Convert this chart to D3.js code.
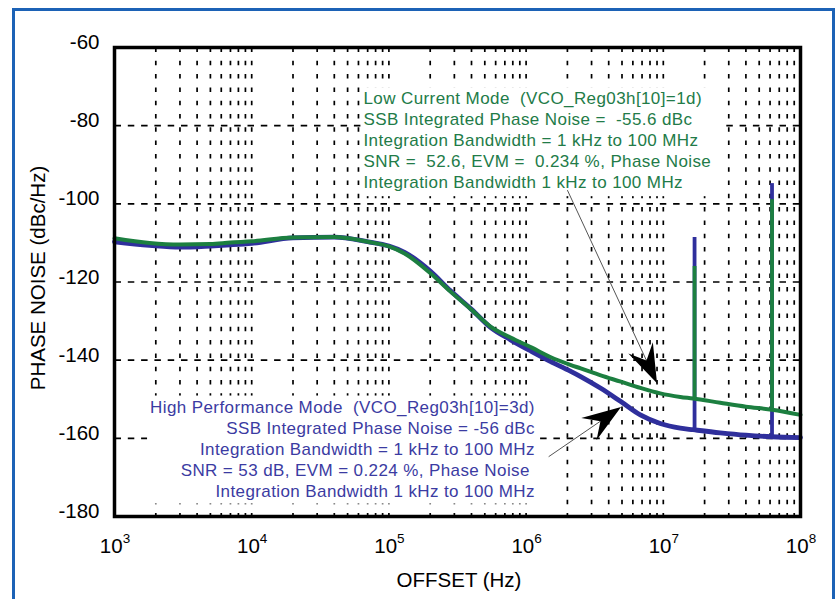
<!DOCTYPE html>
<html>
<head>
<meta charset="utf-8">
<script src="https://cdn.jsdelivr.net/npm/d3@7"></script>
<style>
  html, body { margin: 0; padding: 0; background: #fff; }
  svg { display: block; font-family: "Liberation Sans", Arial, Helvetica, sans-serif; }
</style>
</head>
<body>
<svg id="chart" width="839" height="599"></svg>
<script>
// Offset frequencies (Hz) at which both phase-noise traces are sampled
const offsetsHz = [1e3, 1.8e3, 3e3, 5e3, 7e3, 1e4, 2e4, 4e4, 7e4, 1e5, 1.3e5, 2e5, 2.8e5, 4e5,
  5.5e5, 7.7e5, 1.1e6, 1.5e6, 2.1e6, 2.5e6, 3.5e6, 4.9e6, 6.8e6, 9.5e6, 1.33e7, 1.65e7,
  2.6e7, 4e7, 6.2e7, 1e8];

// Low Current Mode (VCO_Reg03h[10]=1d), dBc/Hz
const lowCurrentNoise = [-108.8, -110.0, -110.4, -110.3, -109.9, -109.6, -108.6, -108.5, -109.7,
  -110.9, -112.7, -117.7, -122.4, -127.1, -131.4, -134.2, -136.8, -139.2, -141.2, -142.1,
  -143.9, -145.5, -147.1, -148.5, -149.4, -149.8, -150.9, -151.9, -152.7, -154.0];

// High Performance Mode (VCO_Reg03h[10]=3d), dBc/Hz
const highPerfNoise = [-109.7, -110.6, -111.1, -110.8, -110.5, -110.1, -108.7, -108.5, -109.7,
  -110.8, -112.4, -117.2, -122.2, -127.0, -131.6, -134.8, -137.8, -140.3, -142.8, -144.2,
  -147.2, -150.6, -154.0, -156.2, -157.4, -157.8, -158.6, -159.2, -159.6, -159.8];

// Spurs: offset, top of the spur and the floor it rises from, per mode
const spurOffsetsHz = [1.69e7, 6.2e7];
const spurHighTop = [-108.5, -94.7];
const spurHighBase = [-157.8, -159.6];
const spurLowTop = [-115.9, -98.8];
const spurLowBase = [-149.8, -152.7];

// Axis ticks
const yTickValues = [-60, -80, -100, -120, -140, -160, -180];
const xDecadeTicks = [1e3, 1e4, 1e5, 1e6, 1e7, 1e8];

// Annotation text
const lowCurrentNote = [
  "Low Current Mode  (VCO_Reg03h[10]=1d)",
  "SSB Integrated Phase Noise =  -55.6 dBc",
  "Integration Bandwidth = 1 kHz to 100 MHz",
  "SNR =  52.6, EVM =  0.234 %, Phase Noise",
  "Integration Bandwidth 1 kHz to 100 MHz"
];
const highPerfNote = [
  "High Performance Mode  (VCO_Reg03h[10]=3d)",
  "SSB Integrated Phase Noise = -56 dBc",
  "Integration Bandwidth = 1 kHz to 100 MHz",
  "SNR = 53 dB, EVM = 0.224 %, Phase Noise ",
  "Integration Bandwidth 1 kHz to 100 MHz"
];
// Annotation anchors and arrow endpoints, in data units [offset Hz, dBc/Hz]
const lowNoteAnchor = [6.53e4, -74.5];
const highNoteAnchor = [1.16e6, -153.4];
const lowArrow = { from: [2.0e6, -96.5], to: [9.0e6, -145.9] };
const highArrow = { from: [1.46e6, -164.7], to: [4.92e6, -152.0] };

const GREEN = "#1c7f40", BLUE = "#2f2f9c";
const GREEN_TEXT = "#227b48", BLUE_TEXT = "#3b3ba2";

const svg = d3.select("#chart");
const plot = { left: 114.5, right: 800.5, top: 47.5, bottom: 516.5 };

const x = d3.scaleLog().domain([1e3, 1e8]).range([plot.left, plot.right]);
const y = d3.scaleLinear().domain([-60, -180]).range([plot.top, plot.bottom]);

// Outer blue frame
svg.append("rect")
  .attr("x", 13.5).attr("y", 9.5).attr("width", 820).attr("height", 640)
  .attr("fill", "none").attr("stroke", "#1c62b6").attr("stroke-width", 3);

// Grid
const grid = svg.append("g").attr("stroke", "#000").attr("stroke-width", 1.7);
grid.selectAll("line.v")
  .data(x.ticks().filter(d => d > 1e3 * 1.001 && d < 1e8 * 0.999))
  .join("line").attr("class", "v")
  .attr("x1", d => x(d)).attr("x2", d => x(d))
  .attr("y1", plot.top).attr("y2", plot.bottom)
  .attr("stroke-dasharray", "4.5,8.8");
grid.selectAll("line.h")
  .data(yTickValues.filter(d => d !== -60 && d !== -180))
  .join("line").attr("class", "h")
  .attr("x1", plot.left).attr("x2", plot.right)
  .attr("y1", d => y(d)).attr("y2", d => y(d))
  .attr("stroke-dasharray", "6.5,6.8");

// Annotation blocks with white backing
function note(lines, anchor, align, color, pad) {
  const g = svg.append("g");
  const bg = g.append("rect").attr("fill", "#fff");
  const t = g.append("text")
    .attr("x", x(anchor[0])).attr("y", y(anchor[1]))
    .attr("text-anchor", align)
    .attr("fill", color)
    .style("font-size", "17px")
    .style("letter-spacing", "0.4px")
    .style("white-space", "pre");
  lines.forEach((s, i) => {
    t.append("tspan").attr("x", x(anchor[0])).attr("dy", i === 0 ? 0 : 21).text(s);
  });
  const b = t.node().getBBox();
  bg.attr("x", b.x - pad[3]).attr("y", b.y - pad[0])
    .attr("width", b.width + pad[1] + pad[3]).attr("height", b.height + pad[0] + pad[2]);
}
note(lowCurrentNote, lowNoteAnchor, "start", GREEN_TEXT, [2, 10, 4, 2.5]);
note(highPerfNote, highNoteAnchor, "end", BLUE_TEXT, [2, 2, 3, 3]);

// Traces
const line = d3.line()
  .x(d => x(d[0])).y(d => y(d[1]))
  .curve(d3.curveMonotoneX);

function trace(values, color, width, tops, bases) {
  svg.append("path")
    .datum(offsetsHz.map((f, i) => [f, values[i]]))
    .attr("d", line)
    .attr("fill", "none").attr("stroke", color)
    .attr("stroke-width", width).attr("stroke-linejoin", "round").attr("stroke-linecap", "round");
  svg.append("g").selectAll("line")
    .data(spurOffsetsHz.map((f, i) => ({ f, top: tops[i], base: bases[i] })))
    .join("line")
    .attr("x1", d => x(d.f)).attr("x2", d => x(d.f))
    .attr("y1", d => y(d.top)).attr("y2", d => y(d.base))
    .attr("stroke", color).attr("stroke-width", 3.8);
}
trace(highPerfNoise, BLUE, 4.8, spurHighTop, spurHighBase);
trace(lowCurrentNoise, GREEN, 4.0, spurLowTop, spurLowBase);

// Callout arrows
function arrow(a) {
  const x0 = x(a.from[0]), y0 = y(a.from[1]);
  const x1 = x(a.to[0]), y1 = y(a.to[1]);
  const len = Math.hypot(x1 - x0, y1 - y0);
  const ux = (x1 - x0) / len, uy = (y1 - y0) / len;
  const px = -uy, py = ux;
  const L = 39, W = 13.5, N = 25;
  svg.append("line")
    .attr("x1", x0).attr("y1", y0).attr("x2", x1 - ux * N).attr("y2", y1 - uy * N)
    .attr("stroke", "#555").attr("stroke-width", 1);
  const pts = [
    [x1, y1],
    [x1 - ux * L + px * W, y1 - uy * L + py * W],
    [x1 - ux * N, y1 - uy * N],
    [x1 - ux * L - px * W, y1 - uy * L - py * W]
  ];
  svg.append("path").attr("d", "M" + pts.join("L") + "Z").attr("fill", "#000");
}
arrow(lowArrow);
arrow(highArrow);

// Plot frame
svg.append("rect")
  .attr("x", plot.left).attr("y", plot.top)
  .attr("width", plot.right - plot.left).attr("height", plot.bottom - plot.top)
  .attr("fill", "none").attr("stroke", "#000").attr("stroke-width", 3.5);

// Y axis labels
const yAxis = svg.append("g")
  .attr("transform", `translate(${plot.left},0)`)
  .call(d3.axisLeft(y).tickValues(yTickValues).tickSize(0).tickPadding(15).tickFormat(d => String(d)));
yAxis.select(".domain").remove();
yAxis.selectAll("text")
  .attr("dy", "0.05em")
  .attr("fill", "#000")
  .style("font-size", "20.5px")
  .style("font-family", "'Liberation Sans', Arial, sans-serif");

// X axis labels as powers of ten
const xAxis = svg.append("g")
  .attr("transform", `translate(0,${plot.bottom})`)
  .call(d3.axisBottom(x).tickValues(xDecadeTicks).tickSize(0).tickFormat(() => ""));
xAxis.select(".domain").remove();
xAxis.selectAll("text")
  .attr("y", 36.5).attr("dy", 0)
  .attr("fill", "#000")
  .style("font-size", "20.5px")
  .style("font-family", "'Liberation Sans', Arial, sans-serif")
  .each(function (d) {
    const t = d3.select(this);
    t.append("tspan").text("10");
    t.append("tspan").attr("dy", -10).style("font-size", "13.5px").text(Math.round(Math.log10(d)));
  });

// Axis titles
svg.append("text")
  .attr("x", (plot.left + plot.right) / 2 + 1.5).attr("y", 587)
  .attr("text-anchor", "middle").style("font-size", "20.5px")
  .text("OFFSET (Hz)");
svg.append("text")
  .attr("transform", "translate(44.5,278) rotate(-90)")
  .attr("text-anchor", "middle").style("font-size", "20.5px")
  .text("PHASE NOISE (dBc/Hz)");
</script>
</body>
</html>
